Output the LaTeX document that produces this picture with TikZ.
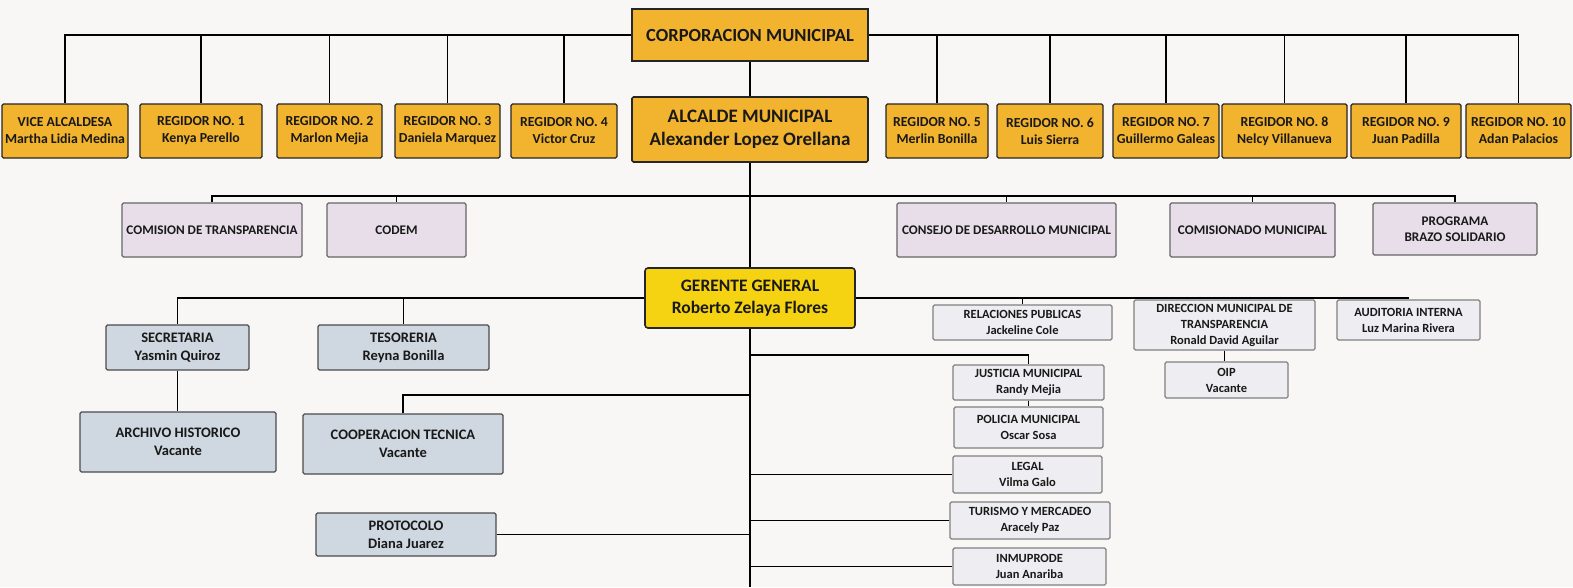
\documentclass[tikz,border=0pt]{standalone}
\usepackage{fontspec}
\setmainfont{Carlito}
\usepackage{tikz}

\definecolor{paper}{RGB}{248,247,245}
\definecolor{orangefill}{RGB}{242,179,46}
\definecolor{goldfill}{RGB}{245,211,18}
\definecolor{lilacfill}{RGB}{231,222,234}
\definecolor{bluefill}{RGB}{207,215,224}
\definecolor{greyfill}{RGB}{238,237,241}

\begin{document}
\begin{tikzpicture}[x=1pt,y=-1pt,line width=1.1pt,
    box node/.style={draw=black!85,rounded corners=1.5pt,align=center,inner sep=1pt,text=black!90},
    orange node/.style={box node,fill=orangefill,minimum height=54pt,font=\bfseries\fontsize{13.8}{17}\selectfont},
    big node/.style={box node,fill=orangefill,line width=1.6pt,font=\bfseries\fontsize{19}{23}\selectfont},
    gold node/.style={big node,fill=goldfill,rounded corners=3pt,font=\bfseries\fontsize{17.5}{22}\selectfont},
    lilac node/.style={box node,draw=black!60,fill=lilacfill,minimum height=54pt,font=\bfseries\fontsize{13.2}{16}\selectfont},
    blue node/.style={box node,draw=black!70,fill=bluefill,font=\bfseries\fontsize{14.5}{18}\selectfont},
    grey node/.style={box node,draw=black!50,fill=greyfill,font=\bfseries\fontsize{12.5}{16}\selectfont}]
    \fill[paper] (0,0) rectangle (1573,587);
    \useasboundingbox (0,0) rectangle (1573,587);

    % concejo y alcaldia
    \node[big node,rounded corners=0pt,minimum width=236pt,minimum height=52pt,font=\bfseries\fontsize{18.5}{22}\selectfont] (1) at (750,35) {CORPORACION MUNICIPAL};
    \node[big node,minimum width=236pt,minimum height=65pt] (2) at (750,129.5) {ALCALDE MUNICIPAL\\Alexander Lopez Orellana};
    \node[orange node,minimum width=126pt] (3) at (65,131) {VICE ALCALDESA\\Martha Lidia Medina};
    \node[orange node,minimum width=122pt] (4) at (201,131) {REGIDOR NO. 1\\Kenya Perello};
    \node[orange node,minimum width=105pt] (5) at (329.5,131) {REGIDOR NO. 2\\Marlon Mejia};
    \node[orange node,minimum width=105pt] (6) at (447.5,131) {REGIDOR NO. 3\\Daniela Marquez};
    \node[orange node,minimum width=106pt] (7) at (564,131) {REGIDOR NO. 4\\Victor Cruz};
    \node[orange node,minimum width=102pt] (8) at (937,131) {REGIDOR NO. 5\\Merlin Bonilla};
    \node[orange node,minimum width=106pt] (9) at (1050,131) {REGIDOR NO. 6\\Luis Sierra};
    \node[orange node,minimum width=106pt] (10) at (1166,131) {REGIDOR NO. 7\\Guillermo Galeas};
    \node[orange node,minimum width=125pt] (11) at (1284.5,131) {REGIDOR NO. 8\\Nelcy Villanueva};
    \node[orange node,minimum width=110pt] (12) at (1406,131) {REGIDOR NO. 9\\Juan Padilla};
    \node[orange node,minimum width=105pt] (13) at (1518.5,131) {REGIDOR NO. 10\\Adan Palacios};

    \path[draw]
    (1.west) -| (3.north) (1.west) -| (4.north) (1.west) -| (5.north)
    (1.west) -| (6.north) (1.west) -| (7.north)
    (1.east) -| (8.north) (1.east) -| (9.north) (1.east) -| (10.north)
    (1.east) -| (11.north) (1.east) -| (12.north) (1.east) -| (13.north)
    (1) -- (2);

    % comisiones
    \node[lilac node,minimum width=180pt] (14) at (212,230) {COMISION DE TRANSPARENCIA};
    \node[lilac node,minimum width=139pt] (15) at (396.5,230) {CODEM};
    \node[lilac node,minimum width=219pt] (16) at (1006.5,230) {CONSEJO DE DESARROLLO MUNICIPAL};
    \node[lilac node,minimum width=165pt] (17) at (1252.5,230) {COMISIONADO MUNICIPAL};
    \node[lilac node,minimum width=164pt,minimum height=52pt] (18) at (1455,229) {PROGRAMA\\BRAZO SOLIDARIO};
    \coordinate (bus) at (750,196);
    \path[draw]
    (bus) -| (14.north) (bus) -| (15.north) (bus) -| (16.north)
    (bus) -| (17.north) (bus) -| (18.north);

    % gerencia
    \node[gold node,minimum width=210pt,minimum height=60pt] (19) at (750,298) {GERENTE GENERAL\\Roberto Zelaya Flores};
    \coordinate (end) at (750,587);
    \draw (2) -- (19) (19) -- (end);

    \node[blue node,minimum width=143pt,minimum height=45pt] (20) at (177.5,347.5) {SECRETARIA\\Yasmin Quiroz};
    \node[blue node,minimum width=171pt,minimum height=45pt] (21) at (403.5,347.5) {TESORERIA\\Reyna Bonilla};
    \node[blue node,minimum width=196pt,minimum height=60pt] (22) at (178,442) {ARCHIVO HISTORICO\\Vacante};
    \node[blue node,minimum width=200pt,minimum height=60pt] (23) at (403,444) {COOPERACION TECNICA\\Vacante};
    \node[blue node,minimum width=180pt,minimum height=43pt] (24) at (406,534.5) {PROTOCOLO\\Diana Juarez};

    \node[grey node,minimum width=179pt,minimum height=35pt] (25) at (1022.5,322.5) {RELACIONES PUBLICAS\\Jackeline Cole};
    \node[grey node,minimum width=181pt,minimum height=50pt] (26) at (1224.5,325) {DIRECCION MUNICIPAL DE\\TRANSPARENCIA\\Ronald David Aguilar};
    \node[grey node,minimum width=143pt,minimum height=40pt] (27) at (1408.5,320) {AUDITORIA INTERNA\\Luz Marina Rivera};
    \node[grey node,minimum width=123pt,minimum height=36pt] (28) at (1226.5,380) {OIP\\Vacante};
    \node[grey node,minimum width=151pt,minimum height=35pt] (29) at (1028.5,382.5) {JUSTICIA MUNICIPAL\\Randy Mejia};
    \node[grey node,minimum width=149pt,minimum height=41pt] (30) at (1028.5,427.5) {POLICIA MUNICIPAL\\Oscar Sosa};
    \node[grey node,minimum width=149pt,minimum height=37pt] (31) at (1027.5,474.5) {LEGAL\\Vilma Galo};
    \node[grey node,minimum width=160pt,minimum height=37pt] (32) at (1030,520.5) {TURISMO Y MERCADEO\\Aracely Paz};
    \node[grey node,minimum width=153pt,minimum height=37pt] (33) at (1029.5,566.5) {INMUPRODE\\Juan Anariba};

    \coordinate (jus) at (750,355);
    \coordinate (coop) at (750,395);
    \path[draw]
    (19.west) -| (20.north) (19.west) -| (21.north)
    (20.south) -- (20.south |- 22.north)
    (coop) -| (23.north)
    (24.east) -- (24.east -| 19)
    (19.east) -| (25.north) (19.east) -| (26.north) (19.east) -| (27.north)
    (26.south) -- (26.south |- 28.north)
    (jus) -| (29.north)
    (29.south) -- (30.north)
    (31.west) -- (31.west -| 19)
    (32.west) -- (32.west -| 19)
    (33.west) -- (33.west -| 19);
\end{tikzpicture}
\end{document}
